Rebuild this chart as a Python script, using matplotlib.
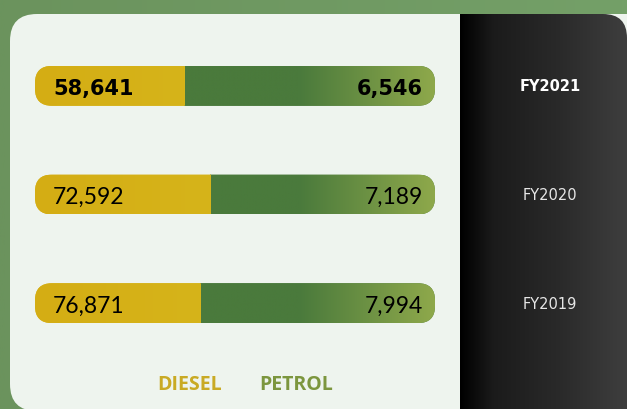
import numpy as np
import matplotlib
matplotlib.use("Agg")
import matplotlib.pyplot as plt
from matplotlib.patches import FancyBboxPatch
from matplotlib.colors import to_rgba
import matplotlib.transforms as mtransforms

# ---------------- data ----------------
years = ["FY2021", "FY2020", "FY2019"]
diesel = [58641, 72592, 76871]
petrol = [6546, 7189, 7994]
# share of bar length given to the diesel segment (as drawn in the reference)
diesel_share = [0.3725, 0.4375, 0.4125]
legend_labels = ["DIESEL", "PETROL"]

# ---------------- style ----------------
W, H = 627, 410
DIESEL_C = "#d6b41a"
PETROL_DARK = "#4a7a3c"
PETROL_LIGHT = "#8fa94b"
CARD_C = "#eef4ee"
FADE_START = 0.66

fig = plt.figure(figsize=(W / 100, H / 100), dpi=100)

# background axes in pixel coordinates
bg = fig.add_axes([0, 0, 1, 1])
bg.axis("off")

# green background gradient
g0 = np.array(to_rgba("#6b935d"))
g1 = np.array(to_rgba("#74a068"))
t = np.linspace(0, 1, 64)
grad = (g0[None, :] * (1 - t[:, None]) + g1[None, :] * t[:, None])[None, :, :]
bg.imshow(grad, extent=[0, W, H, 0], aspect="auto", interpolation="bilinear", zorder=0)

# light card
card = FancyBboxPatch((10, 15), 680, 397, boxstyle="round,pad=0,rounding_size=27",
                      facecolor=CARD_C, edgecolor="none", zorder=1)
bg.add_patch(card)

# dark panel with gradient (only the top-right corner is rounded)
panel = FancyBboxPatch((400, 15), 227, 440, boxstyle="round,pad=0,rounding_size=24",
                       facecolor="none", edgecolor="none", zorder=2)
bg.add_patch(panel)
xs = np.linspace(0, 1, 200)
stops = [(0.0, "#000000"), (0.2, "#1b1b1b"), (0.6, "#2a2a2a"), (1.0, "#3e3e3e")]
cols = []
for x in xs:
    for (a, ca), (b, cb) in zip(stops[:-1], stops[1:]):
        if a <= x <= b:
            f = (x - a) / (b - a)
            cols.append(np.array(to_rgba(ca)) * (1 - f) + np.array(to_rgba(cb)) * f)
            break
pimg = bg.imshow(np.array(cols)[None, :, :], extent=[460, 627, 455, 15], aspect="auto",
                 interpolation="bilinear", zorder=2)
pimg.set_clip_path(panel)
bg.set_xlim(0, W)
bg.set_ylim(H, 0)

# ---------------- bars axes ----------------
top_px, bot_px = 32.5, 358.5
ax = fig.add_axes([35 / W, (H - bot_px) / H, 400 / W, (bot_px - top_px) / H])
ax.axis("off")
ax.set_zorder(3)
ypos = np.arange(len(years))
bar_h = 40 / 109
px_x = 400.0
px_y = (bot_px - top_px) / 3
r_px = 17
c0 = np.array(to_rgba(PETROL_DARK))
c1 = np.array(to_rgba(PETROL_LIGHT))
d0 = np.array(to_rgba("#d4ad14"))
d1 = np.array(to_rgba(DIESEL_C))
for i, y in enumerate(ypos):
    clip = FancyBboxPatch((0, y - bar_h / 2), 1, bar_h,
                          boxstyle=f"round,pad=0,rounding_size={r_px / px_x}",
                          mutation_aspect=px_x / px_y,
                          facecolor="none", edgecolor="none")
    ax.add_patch(clip)
    b1 = ax.barh(y, diesel_share[i], left=0, height=bar_h, color=DIESEL_C, linewidth=0)
    b2 = ax.barh(y, 1 - diesel_share[i], left=diesel_share[i], height=bar_h,
                 color=PETROL_DARK, linewidth=0)
    for p in list(b1) + list(b2):
        p.set_clip_path(clip)
    # petrol segment shading: dark, then fading to light green at the right end
    s = diesel_share[i]
    px = np.linspace(s, 1, 300)
    f = np.clip((px - FADE_START) / (1 - FADE_START), 0, 1)
    gimg = (c0[None, :] * (1 - f[:, None]) + c1[None, :] * f[:, None])[None, :, :]
    im = ax.imshow(gimg, extent=[s, 1.0, y + bar_h / 2, y - bar_h / 2], aspect="auto",
                   interpolation="bilinear", zorder=2)
    im.set_clip_path(clip)
    # subtle diesel shading on the left
    tt = np.linspace(0, 1, 100)
    dimg = (d0[None, :] * (1 - tt[:, None]) + d1[None, :] * tt[:, None])[None, :, :]
    im2 = ax.imshow(dimg, extent=[0, s, y + bar_h / 2, y - bar_h / 2],
                    aspect="auto", interpolation="bilinear", zorder=2)
    im2.set_clip_path(clip)

    if i == 0:
        kw = dict(fontsize=15, fontweight="bold", family="DejaVu Sans")
    else:
        kw = dict(fontsize=16.5, fontweight="normal", family="Lato")
    ax.text(18 / px_x, y, f"{diesel[i]:,}", ha="left", va="center_baseline",
            color="black", zorder=5, **kw)
    ax.text(1 - 12 / px_x, y, f"{petrol[i]:,}", ha="right", va="center_baseline",
            color="black", zorder=5, **kw)

ax.set_xlim(0, 1)
ax.set_ylim(len(years) - 0.5, -0.5)

# year labels in the dark panel
trans = mtransforms.blended_transform_factory(bg.transData, ax.transData)
for i, y in enumerate(ypos):
    weight = "bold" if i == 0 else "normal"
    ax.text(550, y, years[i], transform=trans, ha="center", va="center",
            fontsize=10.5, fontweight=weight, family="DejaVu Sans",
            color="white" if i == 0 else "#e6e6e6", clip_on=False, zorder=6)

# legend
bg.text(190, 385, legend_labels[0], ha="center", va="center", fontsize=14,
        fontweight="bold", family="Open Sans", color="#c9aa24", zorder=5)
bg.text(296, 385, legend_labels[1], ha="center", va="center", fontsize=14,
        fontweight="bold", family="Open Sans", color="#7c963e", zorder=5)

fig.savefig("out.png", dpi=100)
